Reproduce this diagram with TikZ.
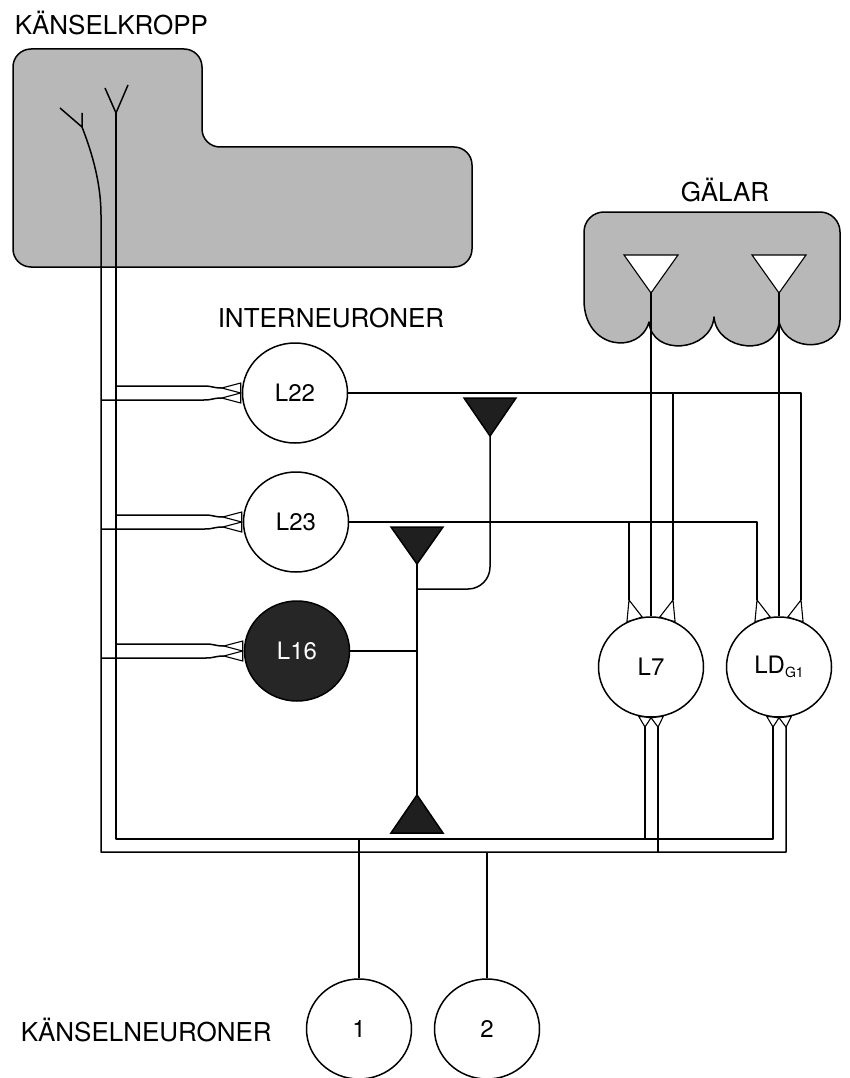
\documentclass[tikz,border=0pt]{standalone}
\usepackage{fontspec}
\setmainfont{TeX Gyre Heros}
\usetikzlibrary{shapes.geometric,calc}
\begin{document}
\begin{tikzpicture}[x=1pt,y=-1pt,line width=1.5pt,line join=round,
  cell/.style={ellipse,draw,minimum width=105pt,minimum height=100pt,inner sep=0pt,font=\fontsize{24}{28}\selectfont},
  lbl/.style={anchor=base west,inner sep=0pt,font=\fontsize{26}{30}\selectfont},
  tissue/.style={draw,fill=black!28},
  syn/.style={draw,fill=white,line width=1.1pt,line join=miter},
  inh/.style={draw,fill=black!88,line join=miter}]
\useasboundingbox (0,0) rectangle (849,1078);

% tissues
\draw[tissue,rounded corners=18pt] (100,49) -- (202,49) -- (202,147) -- (472,147) -- (472,267) -- (13,267) -- (13,49) -- cycle;
\draw[tissue] (584,300) [rounded corners=20pt] -- (584,212) -- (840,212) -- (840,300) [sharp corners]
  .. controls (840,350) and (788,355) .. (779,322)
  .. controls (776,357) and (717,352) .. (714,317)
  .. controls (711,352) and (652,357) .. (649,322)
  .. controls (640,355) and (584,350) .. (584,300) -- cycle;

% labels
\node[lbl] (kk) at (14,35) {KÄNSELKROPP};
\node[lbl] (gal) at (680,201) {GÄLAR};
\node[lbl] (inter) at (217,327) {INTERNEURONER};
\node[lbl] (kn) at (20,1041) {KÄNSELNEURONER};

% cells
\node[cell] (L22) at (295,393) {L22};
\node[cell] (L23) at (296,522) {L23};
\node[cell,fill=black!85,text=white] (L16) at (297,651) {L16};
\node[cell] (L7) at (651,667) {L7};
\node[cell] (LD) at (779,667) {LD\raisebox{-3.5pt}{\fontsize{14}{14}\selectfont G1}};
\node[cell] (N1) at (359,1029) {1};
\node[cell] (N2) at (487,1029) {2};

% gill receptors
\coordinate (g1) at (651,293);
\coordinate (g2) at (779,293);
\draw[syn] (g1) -- ++(-27,-38) -- ++(54,0) -- cycle;
\draw[syn] (g2) -- ++(-27,-38) -- ++(54,0) -- cycle;
\draw (g1) -- (L7.north);
\draw (g2) -- (LD.north);

% dendrites in the skin
\coordinate (yL) at (82,127);
\coordinate (yR) at (116,113);
\coordinate (tO) at (101,215);
\coordinate (bI) at (0,839);
\coordinate (bO) at (0,852);
\draw (60,108) -- (yL) (82,113) -- (yL);
\draw (105,88) -- (yR) -- (128,85);

% synapse points on motor neurons
\foreach \q in {L7,LD}{
  \coordinate (\q-ia) at ($(\q.center)+(-22,-67)$);
  \coordinate (\q-ib) at ($(\q.center)+(22,-67)$);
  \coordinate (\q-oa) at ($(\q.center)+(-6,60)$);
  \coordinate (\q-ob) at ($(\q.center)+(7,60)$);
}

% trunks and bus
\draw (yL) .. controls (93,155) and (101,185) .. (tO) -- (tO |- bO) -- (LD-ob |- bO) -- (LD-ob);
\draw (yR) -- (yR |- bI) -- (LD-oa |- bI) -- (LD-oa);
\draw (L7-oa) -- (L7-oa |- bI);
\draw (L7-ob) -- (L7-ob |- bO);
\draw (N1.north) -- (N1.north |- bI);
\draw (N2.north) -- (N2.north |- bO);

% inputs to interneurons
\foreach \q in {L22,L23,L16}{
  \coordinate (\q-ua) at ($(\q.west)+(-20,-5)$);
  \coordinate (\q-la) at ($(\q.west)+(-20,5)$);
  \coordinate (\q-ub) at ($(\q.west)+(-38,-7)$);
  \coordinate (\q-lb) at ($(\q.west)+(-38,7)$);
  \draw (yR |- \q-ub) -- (\q-ub) .. controls +(9,0) and +(-9,0) .. (\q-ua);
  \draw (tO |- \q-lb) -- (\q-lb) .. controls +(9,0) and +(-9,0) .. (\q-la);
  \draw[syn] (\q-ua) -- ++(19,-5) -- ++(0,10) -- cycle;
  \draw[syn] (\q-la) -- ++(19,-5) -- ++(0,10) -- cycle;
}

% interneuron axons
\draw (L22.east) -- (L22.east -| LD-ib) -- (LD-ib);
\draw (L22.east -| L7-ib) -- (L7-ib);
\draw (L23.east) -- (L23.east -| LD-ia) -- (LD-ia);
\draw (L23.east -| L7-ia) -- (L7-ia);

\foreach \q in {L7,LD}{
  \draw[syn] (\q-ia) -- (\q.118) -- (\q.100) -- cycle;
  \draw[syn] (\q-ib) -- (\q.80) -- (\q.62) -- cycle;
  \draw[syn] (\q-oa) -- (\q.256) -- (\q.270) -- cycle;
  \draw[syn] (\q-ob) -- (\q.270) -- (\q.284) -- cycle;
}

% inhibitory L16 terminals
\coordinate (i1) at (490,436);
\coordinate (i2) at (417,564);
\coordinate (i3) at (417,795);
\coordinate (jn) at (417,589);
\draw[rounded corners=22pt] (i1) -- (i1 |- jn) -- (jn);
\draw (i2) -- (i3);
\draw (L16.east) -- (L16.east -| i2);
\draw[inh] (i1) -- ++(-26,-38) -- ++(52,0) -- cycle;
\draw[inh] (i2) -- ++(-26,-37) -- ++(52,0) -- cycle;
\draw[inh] (i3) -- ++(-26,38) -- ++(52,0) -- cycle;
\end{tikzpicture}
\end{document}
